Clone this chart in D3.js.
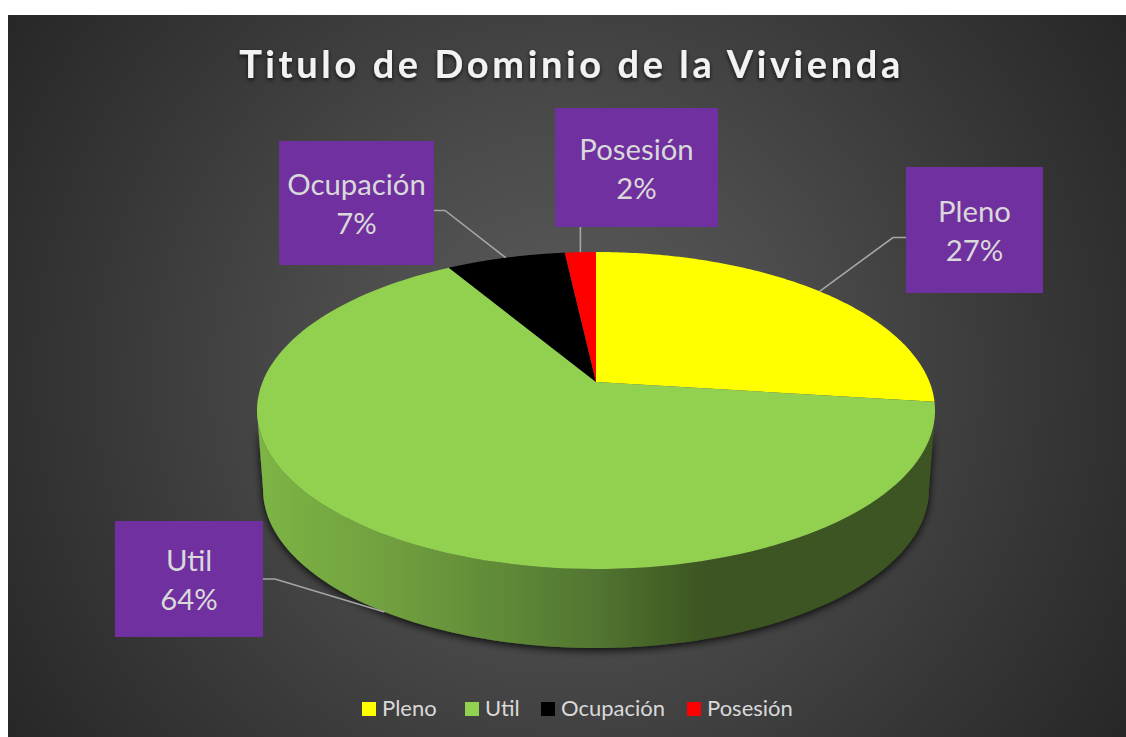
<!DOCTYPE html>
<html lang="es">
<head>
<meta charset="utf-8">
<title>Titulo de Dominio de la Vivienda</title>
<script src="https://cdn.jsdelivr.net/npm/d3@7/dist/d3.min.js"></script>
<style>
html,body{margin:0;padding:0;background:#fff;overflow:hidden}
svg{display:block}
text{font-family:Lato,"Open Sans",sans-serif}
</style>
</head>
<body>
<script>
const titleText = "Titulo de Dominio de la Vivienda";
const categories = ["Pleno", "Util", "Ocupación", "Posesión"];
const values = [27, 64.49, 6.75, 1.76];
const sliceColors = ["#FFFF00", "#92D050", "#000000", "#FF0000"];

const W = 1126, H = 737;
const svg = d3.select("body").append("svg").attr("width", W).attr("height", H);
const defs = svg.append("defs");

// Background
const bg = defs.append("radialGradient").attr("id", "bg").attr("gradientUnits", "userSpaceOnUse")
  .attr("cx", 567).attr("cy", 376).attr("r", 690);
[[0, "#5c5c5c"], [0.35, "#4b4b4b"], [0.7, "#363636"], [1, "#252525"]].forEach(([o, c]) =>
  bg.append("stop").attr("offset", o).attr("stop-color", c));
svg.append("rect").attr("x", 8).attr("y", 15).attr("width", W - 8).attr("height", H - 15).attr("fill", "url(#bg)");

// Filters
const sh = defs.append("filter").attr("id", "sideShadow").attr("x", "-10%").attr("y", "-10%").attr("width", "120%").attr("height", "125%");
sh.append("feDropShadow").attr("dx", 0).attr("dy", 2).attr("stdDeviation", 4).attr("flood-color", "#000").attr("flood-opacity", 0.9);
const ts = defs.append("filter").attr("id", "titleShadow").attr("x", "-5%").attr("y", "-30%").attr("width", "110%").attr("height", "170%");
ts.append("feDropShadow").attr("dx", 0).attr("dy", 2).attr("stdDeviation", 2).attr("flood-color", "#000").attr("flood-opacity", 0.75);

// Side gradient
const sg = defs.append("linearGradient").attr("id", "side").attr("gradientUnits", "userSpaceOnUse")
  .attr("x1", 257).attr("x2", 935).attr("y1", 0).attr("y2", 0);
[[0, "#7db545"], [0.2, "#709f3f"], [0.36, "#608a37"], [0.5, "#527531"], [0.66, "#3c5520"], [1, "#3c5520"]].forEach(([o, c]) =>
  sg.append("stop").attr("offset", o).attr("stop-color", c));

// Perspective projection of the pie disc
const cx = 596, apexY = 382, persp = 0.1798, yGain = 84.7, radius = 333.5;
const depth = 79, baseScale = 0.982;
function project(theta, lower) {
  const u = Math.sin(theta), v = Math.cos(theta), w = 1 + persp * v;
  const s = lower ? baseScale : 1;
  return [cx + radius * s * u / w, (apexY - yGain * v) / w + (lower ? depth : 0)];
}
const sampleAngles = (a, b) => d3.range(0, 121).map(i => a + (b - a) * i / 120);
const line = d3.line();

const pie = d3.pie().sort(null).value(d => d)(values);

// Side wall: visible front part of each slice
const frontStart = Math.PI - Math.asin(Math.sqrt(1 - persp * persp));
const frontEnd = 2 * Math.PI - frontStart;
const wallG = svg.append("g");
pie.forEach(p => {
  const a = Math.max(p.startAngle, frontStart), b = Math.min(p.endAngle, frontEnd);
  if (b <= a) return;
  const ang = sampleAngles(a, b);
  const pts = ang.map(t => project(t, false)).concat(ang.slice().reverse().map(t => project(t, true)));
  wallG.append("path").attr("d", line(pts) + "Z").attr("fill", "url(#side)").attr("filter", "url(#sideShadow)");
});

// Top faces
svg.append("g").selectAll("path").data(pie).join("path")
  .attr("d", p => line([[cx, apexY]].concat(sampleAngles(p.startAngle, p.endAngle).map(t => project(t, false)))) + "Z")
  .attr("fill", (p, i) => sliceColors[i]);

// Data-label boxes
const boxes = [
  {x: 906, y: 167, w: 137, h: 126, side: "left",  elbow: 893, tx: 974.5},
  {x: 115, y: 521, w: 148, h: 116, side: "right", elbow: 275, lower: true, tx: 189},
  {x: 279, y: 141, w: 155, h: 124, side: "right", elbow: 445, tx: 356.5},
  {x: 555, y: 108, w: 163, h: 119, side: "bottom", tx: 636.5}
];
const leaders = svg.append("g").attr("fill", "none").attr("stroke", "#a6a6a6").attr("stroke-width", 1.6);
pie.forEach((p, i) => {
  const b = boxes[i], mid = (p.startAngle + p.endAngle) / 2;
  const end = project(mid, !!b.lower);
  let pts;
  if (b.side === "bottom") pts = [[end[0], b.y + b.h], [end[0], end[1]]];
  else {
    const ay = b.y + b.h * (i === 1 ? 0.5 : 0.56);
    pts = [[b.side === "left" ? b.x : b.x + b.w, ay], [b.elbow, ay], end];
  }
  leaders.append("path").attr("d", line(pts));
});
const labels = svg.append("g");
pie.forEach((p, i) => {
  const b = boxes[i];
  labels.append("rect").attr("x", b.x).attr("y", b.y).attr("width", b.w).attr("height", b.h).attr("fill", "#7030A0");
  const t = labels.append("text").attr("text-anchor", "middle").attr("fill", "#d9d9d9").attr("font-size", 29.3);
  t.append("tspan").attr("x", b.tx).attr("y", b.y + b.h / 2 - 8).text(categories[i]);
  t.append("tspan").attr("x", b.tx).attr("y", b.y + b.h / 2 + 31).text(Math.round(p.data) + "%");
});

// Title
svg.append("text").attr("x", 571.5).attr("y", 78).attr("text-anchor", "middle")
  .attr("font-size", 38).attr("font-weight", 700).attr("letter-spacing", 3.6)
  .attr("fill", "#f2f2f2").attr("filter", "url(#titleShadow)").text(titleText);

// Legend
const legendX = [362, 465, 541, 687];
const legend = svg.append("g");
categories.forEach((c, i) => {
  legend.append("rect").attr("x", legendX[i]).attr("y", 702).attr("width", 14).attr("height", 14).attr("fill", sliceColors[i]);
  legend.append("text").attr("x", legendX[i] + 20).attr("y", 716).attr("font-size", 22)
    .attr("fill", "#d9d9d9").text(c);
});
</script>
</body>
</html>
